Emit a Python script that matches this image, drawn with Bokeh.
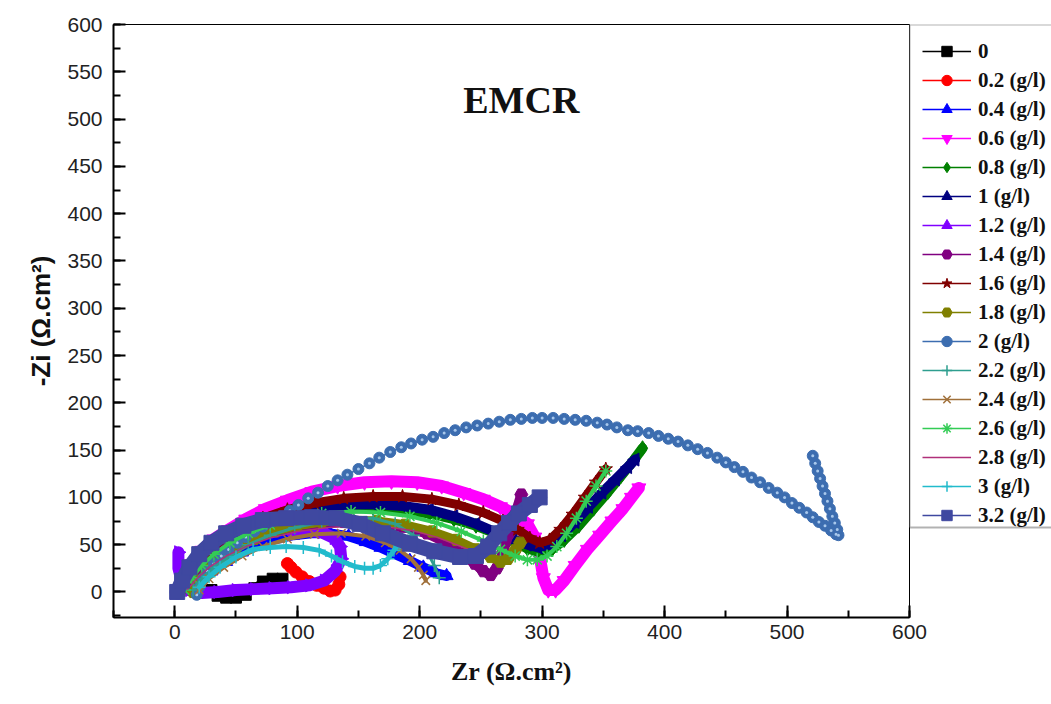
import math
from bokeh.plotting import figure
from bokeh.layouts import row
from bokeh.models import Range1d, SingleIntervalTicker, Legend, LegendItem, Label, BoxAnnotation
from bokeh.embed import file_html
from bokeh.resources import INLINE

# ---------------- data ----------------
labels = ["0", "0.2 (g/l)", "0.4 (g/l)", "0.6 (g/l)", "0.8 (g/l)", "1 (g/l)",
          "1.2 (g/l)", "1.4 (g/l)", "1.6 (g/l)", "1.8 (g/l)", "2 (g/l)",
          "2.2 (g/l)", "2.4 (g/l)", "2.6 (g/l)", "2.8 (g/l)", "3 (g/l)", "3.2 (g/l)"]

zr_00 = [30, 35, 42, 50, 58, 65, 72, 80, 88]
zi_00 = [2, -4, -6, -6, -3, 4, 11, 14, 14]

zr_02 = [92, 95, 99, 104, 110, 116, 122, 127, 131, 134, 135]
zi_02 = [30, 26, 21, 16, 11, 7, 4, 1, 2, 8, 16]

zr_04 = [12, 20, 30, 42, 55, 68, 82, 97, 112, 127, 142, 156, 168, 180, 192, 203, 213, 222]
zi_04 = [2, 12, 22, 32, 42, 50, 56, 60, 62, 62, 59, 53, 47, 40, 33, 26, 20, 17]

zr_06 = [4, 8, 14, 22, 32, 44, 58, 74, 92, 112, 133, 155, 177, 198, 218, 236, 252, 266, 278,
         288, 294, 298, 301, 305, 311, 318, 327, 337, 347, 357, 366, 373, 379]
zi_06 = [2, 15, 30, 44, 56, 66, 77, 88, 97, 106, 112, 116, 117, 116, 112, 105, 98, 90, 82,
         72, 58, 38, 15, 2, 2, 12, 28, 45, 60, 75, 88, 100, 110]

zr_08 = [5, 10, 18, 28, 40, 55, 72, 92, 114, 138, 162, 186, 208, 228, 246, 262, 276, 288,
         298, 308, 318, 330, 342, 354, 364, 374, 382]
zi_08 = [2, 14, 28, 40, 52, 62, 71, 78, 84, 88, 89, 87, 83, 77, 70, 62, 54, 46,
         42, 45, 55, 70, 88, 106, 122, 138, 152]

zr_10 = [5, 10, 18, 28, 40, 55, 72, 92, 114, 138, 162, 186, 208, 228, 246, 262, 276, 288,
         297, 306, 316, 327, 338, 349, 360, 370, 376]
zi_10 = [2, 14, 28, 42, 54, 65, 75, 83, 89, 92, 93, 91, 87, 80, 72, 63, 56, 50,
         47, 50, 60, 74, 90, 105, 119, 132, 140]

zr_12 = [3, 3, 6, 12, 22, 35, 50, 65, 80, 95, 110, 122, 131, 136, 135, 130, 120, 108, 96]
zi_12 = [42, 25, 10, 2, -1, 0, 2, 3, 4, 5, 7, 12, 22, 35, 48, 57, 63, 65, 63]

zr_14 = [5, 10, 18, 28, 40, 55, 72, 92, 114, 138, 162, 186, 206, 222, 235, 245, 252, 258,
         263, 268, 273, 278, 283]
zi_14 = [2, 12, 24, 35, 45, 54, 62, 68, 72, 74, 73, 69, 62, 52, 40, 30, 22, 18,
         25, 42, 62, 82, 103]

zr_16 = [5, 10, 18, 28, 40, 55, 72, 92, 114, 138, 162, 186, 210, 232, 252, 268, 280, 290,
         298, 306, 315, 325, 335, 344, 352]
zi_16 = [2, 15, 30, 44, 57, 68, 78, 87, 94, 99, 101, 101, 98, 92, 84, 75, 66, 57,
         52, 55, 66, 82, 100, 116, 130]

zr_18 = [15, 20, 28, 38, 50, 65, 82, 100, 120, 142, 165, 188, 210, 230, 246, 258, 266, 272, 278, 282]
zi_18 = [0, 12, 24, 35, 46, 56, 64, 70, 74, 76, 75, 71, 64, 55, 45, 37, 32, 35, 44, 52]

zr_20 = [18, 20, 23, 27, 32, 38, 44, 51, 58, 65, 72, 79, 86, 94, 101, 109, 117, 125, 133, 141,
         150, 159, 167, 176, 185, 193, 202, 211, 220, 229, 238, 247, 256, 265, 274, 283, 292,
         300, 309, 318, 327, 336, 345, 353, 361, 370, 378, 387, 395, 403, 411, 419, 427, 435,
         443, 450, 457, 464, 471, 478, 485, 492, 498, 504, 510, 516, 521, 526, 531, 536, 540,
         542, 541, 539, 537, 535, 533, 531, 529, 527, 525, 523, 521]
zi_20 = [-3, 5, 14, 22, 30, 38, 45, 52, 58, 64, 69, 74, 79, 86, 92, 99, 105, 112, 118, 124,
         130, 136, 142, 148, 153, 157, 161, 164, 168, 171, 174, 176, 178, 180, 182, 183, 184,
         184, 184, 183, 182, 181, 179, 177, 174, 171, 170, 168, 165, 162, 159, 155, 151, 147,
         142, 137, 132, 127, 121, 116, 110, 105, 100, 94, 89, 84, 79, 74, 70, 65, 61,
         60, 66, 73, 80, 88, 96, 104, 112, 120, 128, 136, 144]

zr_22 = [15, 22, 32, 45, 60, 78, 98, 120, 142, 162, 180, 195, 205, 212, 216]
zi_22 = [2, 14, 26, 38, 50, 60, 68, 74, 78, 78, 72, 60, 45, 28, 15]

zr_24 = [20, 28, 40, 55, 72, 92, 114, 136, 156, 172, 184, 193, 199, 203, 205]
zi_24 = [2, 14, 26, 38, 48, 56, 61, 62, 59, 52, 44, 35, 26, 18, 12]

zr_26 = [8, 14, 22, 32, 45, 60, 78, 98, 120, 144, 168, 192, 214, 234, 252, 266, 278, 288,
         296, 304, 312, 320, 328, 336, 344, 352]
zi_26 = [2, 15, 28, 40, 52, 62, 71, 78, 83, 85, 84, 80, 73, 64, 54, 45, 38, 34,
         34, 38, 48, 62, 78, 96, 112, 128]

zr_28 = [10, 18, 28, 42, 58, 78, 100, 124, 148, 172, 194, 214, 230, 242, 250]
zi_28 = [2, 14, 26, 38, 48, 57, 64, 68, 70, 69, 65, 58, 50, 44, 40]

zr_30 = [20, 28, 37, 50, 64, 78, 91, 105, 118, 128, 137, 147, 155, 162, 168, 174, 179, 184]
zi_30 = [5, 16, 26, 37, 45, 47, 48, 47, 44, 38, 32, 27, 25, 25, 28, 35, 44, 52]

zr_32 = [2, 6, 12, 20, 30, 42, 56, 72, 91, 112, 132, 151, 170, 192, 212, 233, 246, 256,
         265, 273, 281, 290, 298]
zi_32 = [0, 12, 26, 40, 52, 62, 70, 76, 78, 79, 78, 72, 62, 51, 43, 37, 38, 48,
         62, 73, 83, 92, 100]

x_ticks_step = 100
y_ticks_step = 50

# ---------------- styles ----------------
series = [
    (zr_00, zi_00, "#000000", "square", 0.0, 11, 8),
    (zr_02, zi_02, "#FF0000", "circle", 0.0, 12, 10),
    (zr_04, zi_04, "#0000FF", "triangle", 0.0, 13, 10),
    (zr_06, zi_06, "#FF00FF", "inverted_triangle", 0.0, 14, 12),
    (zr_08, zi_08, "#008000", "diamond", 0.0, 15, 10),
    (zr_10, zi_10, "#000080", "triangle", math.pi / 2, 13, 10),
    (zr_12, zi_12, "#8000FF", "triangle", -math.pi / 2, 13, 12),
    (zr_14, zi_14, "#800080", "hex", 0.0, 13, 10),
    (zr_16, zi_16, "#800000", "star", 0.0, 14, 9),
    (zr_18, zi_18, "#808000", "hex", 0.0, 13, 9),
    (zr_20, zi_20, "#3C6DB0", "circle", 0.0, 11, 1.5),
    (zr_22, zi_22, "#2E9E8F", "cross", 0.0, 13, 3),
    (zr_24, zi_24, "#A0703A", "x", 0.0, 12, 4),
    (zr_26, zi_26, "#33CC55", "asterisk", 0.0, 13, 4),
    (zr_28, zi_28, "#B0307A", None, 0.0, 0, 2),
    (zr_30, zi_30, "#22BBCC", "cross", 0.0, 13, 5),
    (zr_32, zi_32, "#3F48A0", "square", 0.0, 15, 15),
]

p = figure(width=930, height=704, output_backend="svg", toolbar_location=None,
           x_range=Range1d(-50, 600), y_range=Range1d(-27, 600),
           min_border_left=113, min_border_right=21, min_border_top=24, min_border_bottom=87)
p.background_fill_color = "white"
p.border_fill_color = "white"
p.outline_line_color = "black"
p.outline_line_width = 1
p.xgrid.visible = False
p.ygrid.visible = False

p.xaxis.ticker = SingleIntervalTicker(interval=x_ticks_step, num_minor_ticks=2)
p.yaxis.ticker = SingleIntervalTicker(interval=y_ticks_step, num_minor_ticks=2)
for ax in (p.xaxis, p.yaxis):
    ax.axis_line_width = 2
    ax.major_tick_in = 12
    ax.major_tick_out = 0
    ax.minor_tick_in = 7
    ax.minor_tick_out = 0
    ax.major_tick_line_width = 2
    ax.minor_tick_line_width = 2
    ax.major_label_text_font = "Liberation Sans"
    ax.major_label_text_font_size = "21px"
    ax.major_label_text_color = "#222222"
p.xaxis.major_label_standoff = 7
p.yaxis.major_label_standoff = 11

p.xaxis.axis_label = "Zr (Ω.cm²)"
p.xaxis.axis_label_text_font = "Liberation Serif"
p.xaxis.axis_label_text_font_style = "bold"
p.xaxis.axis_label_text_font_size = "26px"
p.xaxis.axis_label_standoff = 15
p.xaxis.axis_label_text_color = "#111111"

p.yaxis.axis_label = "-Zi (Ω.cm²)"
p.yaxis.axis_label_text_font = "Liberation Sans"
p.yaxis.axis_label_text_font_style = "bold"
p.yaxis.axis_label_text_font_size = "26px"
p.yaxis.axis_label_standoff = 8
p.yaxis.axis_label_text_color = "#111111"

# legend panel (separate figure placed over the right margin of the main figure)
pl = figure(width=142, height=704, output_backend="svg", toolbar_location=None,
            x_range=Range1d(1000, 1001), y_range=Range1d(1000, 1001),
            min_border_left=0, min_border_right=0, min_border_top=24, min_border_bottom=87)
pl.axis.visible = False
pl.xgrid.visible = False
pl.ygrid.visible = False
pl.outline_line_color = None
pl.background_fill_alpha = 0
pl.border_fill_alpha = 0
pl.margin = (0, 0, 0, -21)
pl.add_layout(BoxAnnotation(left=1000, right=1005, bottom=1000.1518, top=1001,
                            fill_color="white", fill_alpha=1, line_color="black", line_width=2,
                            level="underlay"))

items = []
for (xs, ys, color, marker, ang, msize, band), lab in zip(series, labels):
    p.line(xs, ys, line_color=color, line_width=1.5)
    if band > 2:
        p.line(xs, ys, line_color=color, line_width=band, line_join="round", line_cap="round")
    rends = [pl.line(xs, ys, line_color=color, line_width=1.5)]
    if marker is not None:
        if marker in ("cross", "x", "asterisk"):
            p.scatter(xs, ys, marker=marker, size=msize, line_color=color, line_width=1.5,
                      angle=ang)
            rends.append(pl.scatter(xs, ys, marker=marker, size=msize, line_color=color,
                                    line_width=1.5, angle=ang))
        else:
            p.scatter(xs, ys, marker=marker, size=msize, fill_color=color, line_color=color,
                      angle=ang)
            rends.append(pl.scatter(xs, ys, marker=marker, size=min(msize, 13), fill_color=color,
                                    line_color=color, angle=ang))
        if lab == "2 (g/l)":
            p.scatter(xs, ys, marker="circle", size=3, fill_color="#A8C8EC", line_color=None)
    items.append(LegendItem(label=lab, renderers=rends))

legend = Legend(items=items, location=(13, 89), margin=0, padding=0, spacing=3,
                glyph_width=49, glyph_height=26, label_height=26, label_standoff=7,
                label_text_font="Liberation Serif", label_text_font_style="bold",
                label_text_font_size="21px", label_text_color="#111111",
                border_line_color=None, background_fill_alpha=0)
pl.add_layout(legend, "center")

title = Label(x=283, y=520, text="EMCR", text_font="Liberation Serif",
              text_font_style="bold", text_font_size="38px", text_align="center",
              text_baseline="middle", text_color="#111111")
p.add_layout(title)

layout = row(p, pl, spacing=0)
open("out.html", "w").write(file_html(layout, INLINE))
